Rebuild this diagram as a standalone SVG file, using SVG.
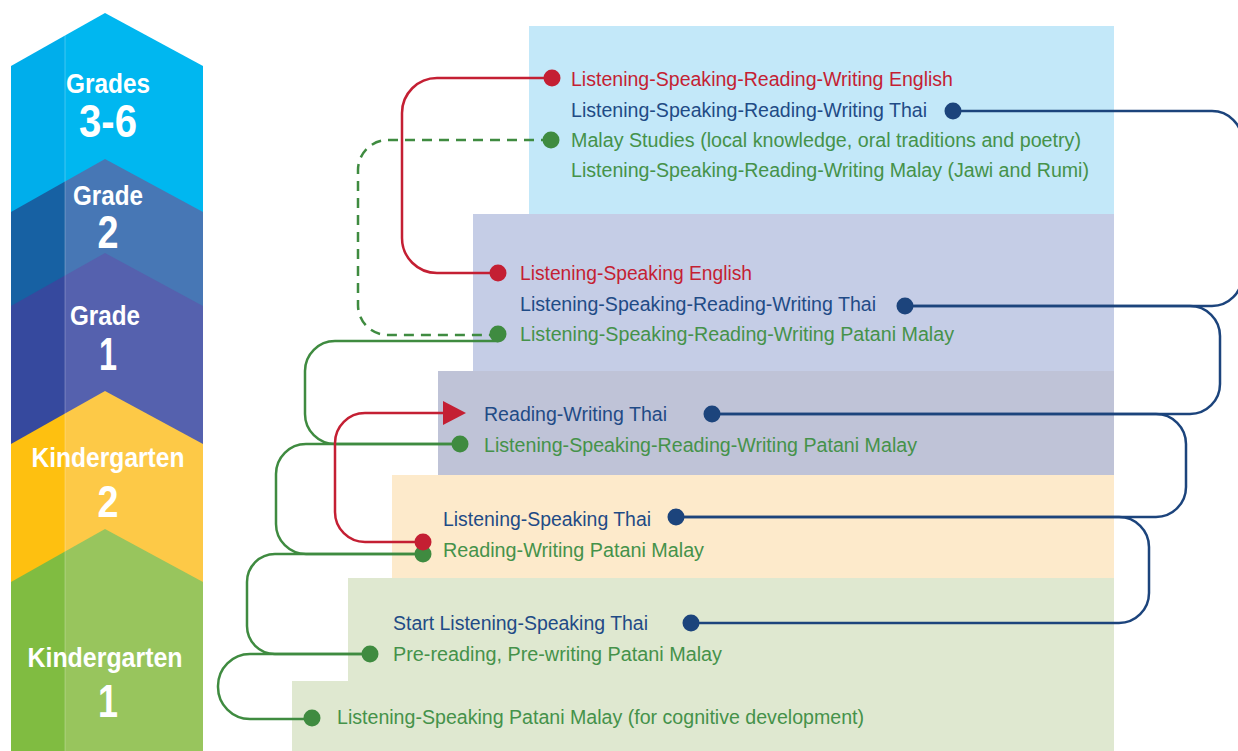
<svg xmlns="http://www.w3.org/2000/svg" width="1238" height="751" viewBox="0 0 1238 751">
<style>
.t{font-family:"Liberation Sans Narrow","Liberation Sans",Arial,sans-serif;font-size:20px}
.r{fill:#c41f33}.b{fill:#1f4b86}.g{fill:#45924a}
.lab{font-family:"Liberation Sans Narrow","Liberation Sans",Arial,sans-serif;font-weight:bold;fill:#fff;text-anchor:middle}
.c{fill:none;stroke-width:2.5}
.cr{stroke:#c41f33}.cb{stroke:#1c447c}.cg{stroke:#3f8b40}
.dr{fill:#c41f33}.db{fill:#1c447c}.dg{fill:#3f8b40}
</style>
<rect width="1238" height="751" fill="#fff"/>
<g id="grades36">
<polygon points="11,66 65,35.5 65,751 11,751" fill="#00aeeb"/>
<polygon points="65,35.5 105,13 203,66 203,751 65,751" fill="#00b7f0"/>
<text class="lab" x="108" y="93" font-size="28" textLength="84" lengthAdjust="spacingAndGlyphs">Grades</text>
<text class="lab" x="108" y="137" font-size="46" textLength="58" lengthAdjust="spacingAndGlyphs">3-6</text>
</g>
<g id="grade2">
<polygon points="11,212 65,181.5 65,751 11,751" fill="#1761a3"/>
<polygon points="65,181.5 105,159 203,212 203,751 65,751" fill="#4777b5"/>
<text class="lab" x="108" y="205" font-size="28" textLength="70" lengthAdjust="spacingAndGlyphs">Grade</text>
<text class="lab" x="108" y="248" font-size="46" textLength="21" lengthAdjust="spacingAndGlyphs">2</text>
</g>
<g id="grade1">
<polygon points="11,306 65,275.5 65,751 11,751" fill="#36499e"/>
<polygon points="65,275.5 105,253 203,306 203,751 65,751" fill="#5561ae"/>
<text class="lab" x="105" y="325" font-size="28" textLength="70" lengthAdjust="spacingAndGlyphs">Grade</text>
<text class="lab" x="108" y="370" font-size="46" textLength="18" lengthAdjust="spacingAndGlyphs">1</text>
</g>
<g id="kindergarten2">
<polygon points="11,444 65,413.5 65,751 11,751" fill="#fec010"/>
<polygon points="65,413.5 105,391 203,444 203,751 65,751" fill="#fdc947"/>
<text class="lab" x="108" y="467" font-size="28" textLength="153" lengthAdjust="spacingAndGlyphs">Kindergarten</text>
<text class="lab" x="108" y="517" font-size="45" textLength="21" lengthAdjust="spacingAndGlyphs">2</text>
</g>
<g id="kindergarten1">
<polygon points="11,582 65,551.5 65,751 11,751" fill="#80bc41"/>
<polygon points="65,551.5 105,529 203,582 203,751 65,751" fill="#98c55d"/>
<text class="lab" x="105" y="667" font-size="28" textLength="155" lengthAdjust="spacingAndGlyphs">Kindergarten</text>
<text class="lab" x="108" y="717" font-size="46" textLength="20" lengthAdjust="spacingAndGlyphs">1</text>
</g>
<g id="divider" stroke="#fff" stroke-opacity="0.25" stroke-width="1">
<line x1="65" y1="35" x2="65" y2="751"/>
</g>
<g id="box-g36">
<rect x="529" y="26" width="585" height="188" fill="#c3e8f9"/>
<text class="t r" x="571" y="86" textLength="382" lengthAdjust="spacingAndGlyphs">Listening-Speaking-Reading-Writing English</text>
<text class="t b" x="571" y="117" textLength="356" lengthAdjust="spacingAndGlyphs">Listening-Speaking-Reading-Writing Thai</text>
<text class="t g" x="571" y="147" textLength="510" lengthAdjust="spacingAndGlyphs">Malay Studies (local knowledge, oral traditions and poetry)</text>
<text class="t g" x="571" y="177" textLength="518" lengthAdjust="spacingAndGlyphs">Listening-Speaking-Reading-Writing Malay (Jawi and Rumi)</text>
</g>
<g id="box-g2">
<rect x="473" y="214" width="641" height="157" fill="#c5cde6"/>
<text class="t r" x="520" y="280" textLength="232" lengthAdjust="spacingAndGlyphs">Listening-Speaking English</text>
<text class="t b" x="520" y="311" textLength="356" lengthAdjust="spacingAndGlyphs">Listening-Speaking-Reading-Writing Thai</text>
<text class="t g" x="520" y="341" textLength="434" lengthAdjust="spacingAndGlyphs">Listening-Speaking-Reading-Writing Patani Malay</text>
</g>
<g id="box-g1">
<rect x="438" y="371" width="676" height="104" fill="#bfc3d7"/>
<text class="t b" x="484" y="421" textLength="183" lengthAdjust="spacingAndGlyphs">Reading-Writing Thai</text>
<text class="t g" x="484" y="452" textLength="433" lengthAdjust="spacingAndGlyphs">Listening-Speaking-Reading-Writing Patani Malay</text>
</g>
<g id="box-k2">
<rect x="392" y="475" width="722" height="103" fill="#fdeacb"/>
<text class="t b" x="443" y="526" textLength="208" lengthAdjust="spacingAndGlyphs">Listening-Speaking Thai</text>
<text class="t g" x="443" y="557" textLength="261" lengthAdjust="spacingAndGlyphs">Reading-Writing Patani Malay</text>
</g>
<g id="box-k1">
<path d="M348,578 H1114 V751 H292 V681 H348 Z" fill="#dfe8d0"/>
<text class="t b" x="393" y="630" textLength="255" lengthAdjust="spacingAndGlyphs">Start Listening-Speaking Thai</text>
<text class="t g" x="393" y="661" textLength="329" lengthAdjust="spacingAndGlyphs">Pre-reading, Pre-writing Patani Malay</text>
<text class="t g" x="337" y="724" textLength="527" lengthAdjust="spacingAndGlyphs">Listening-Speaking Patani Malay (for cognitive development)</text>
</g>
<g id="connectors">
<path class="c cr" d="M552,78 H437 A35,35 0 0 0 402,113 V238 A35,35 0 0 0 437,273 H498"/>
<path class="c cg" stroke-dasharray="10,7" d="M551,140 H388 A30,30 0 0 0 358,170 V305 A30,30 0 0 0 388,335 H498"/>
<path class="c cg" d="M498,341 H335 A30,30 0 0 0 305,371 V414 A30,30 0 0 0 335,444 H460"/>
<path class="c cg" d="M460,444 H306 A30,30 0 0 0 276,474 V524 A30,30 0 0 0 306,554 H423"/>
<path class="c cr" d="M444,413 H365 A30,30 0 0 0 335,443 V512 A30,30 0 0 0 365,542 H423"/>
<polygon class="dr" points="443,401 466,413 443,425"/>
<path class="c cg" d="M423,554 H275 A28,28 0 0 0 247,582 V626 A28,28 0 0 0 275,654 H370"/>
<path class="c cg" d="M370,654 H250 A32,32 0 0 0 218,686 V687 A32,32 0 0 0 250,719 H312"/>
<path class="c cb" d="M953,111 H1212 A30,30 0 0 1 1242,141 V276 A30,30 0 0 1 1212,306 H905"/>
<path class="c cb" d="M905,306 H1190 A30,30 0 0 1 1220,336 V384 A30,30 0 0 1 1190,414 H712"/>
<path class="c cb" d="M712,414 H1156 A30,30 0 0 1 1186,444 V487 A30,30 0 0 1 1156,517 H676"/>
<path class="c cb" d="M676,517 H1119 A30,30 0 0 1 1149,547 V593 A30,30 0 0 1 1119,623 H691"/>
<circle class="dr" cx="552" cy="78" r="8.5"/>
<circle class="dr" cx="498" cy="273" r="8.5"/>
<circle class="dg" cx="551" cy="140" r="8.5"/>
<circle class="dg" cx="498" cy="334" r="8.5"/>
<circle class="dg" cx="460" cy="444" r="8.5"/>
<circle class="dg" cx="423" cy="554" r="8.5"/>
<circle class="dr" cx="423" cy="542" r="8.5"/>
<circle class="dg" cx="370" cy="654" r="8.5"/>
<circle class="dg" cx="312" cy="718" r="8.5"/>
<circle class="db" cx="953" cy="111" r="8.5"/>
<circle class="db" cx="905" cy="306" r="8.5"/>
<circle class="db" cx="712" cy="414" r="8.5"/>
<circle class="db" cx="676" cy="517" r="8.5"/>
<circle class="db" cx="691" cy="623" r="8.5"/>
</g>
</svg>
